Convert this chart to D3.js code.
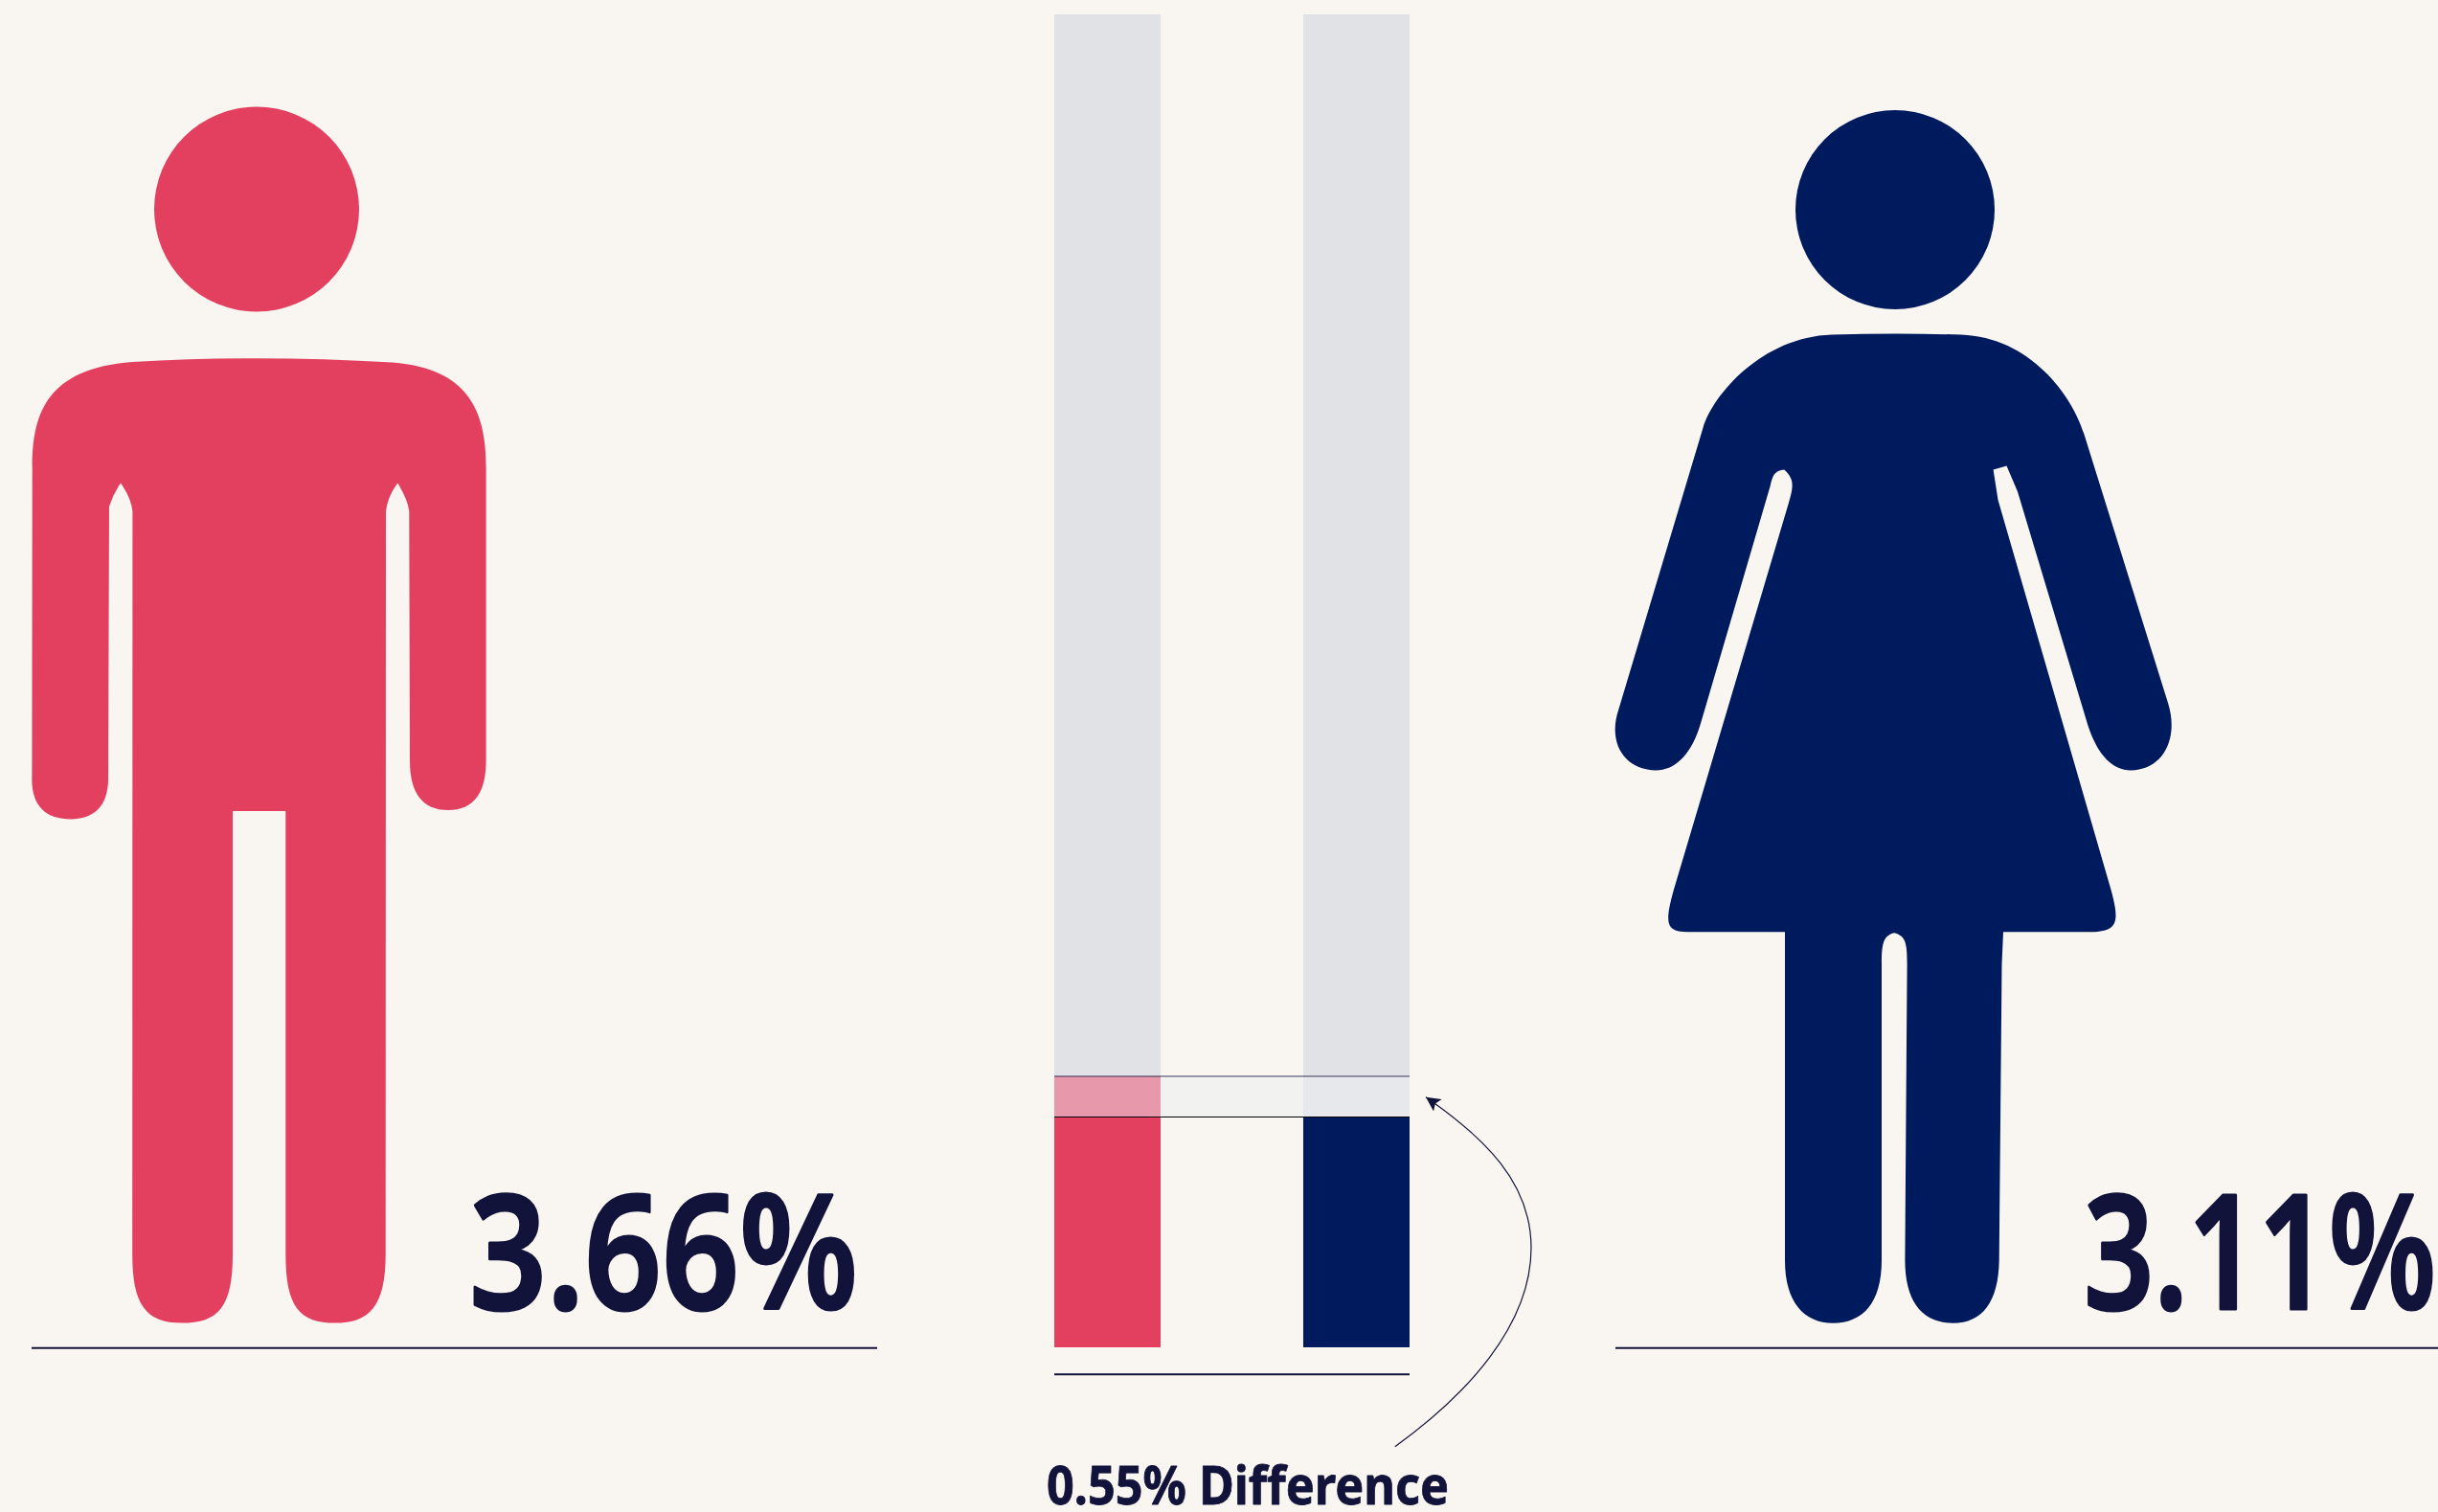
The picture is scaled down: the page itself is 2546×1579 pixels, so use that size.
<!DOCTYPE html>
<html>
<head>
<meta charset="utf-8">
<script src="https://cdn.jsdelivr.net/npm/d3@7/dist/d3.min.js"></script>
<style>
  html, body { margin: 0; padding: 0; background: #F9F6F1; overflow: hidden; }
  text { font-family: "Noto Sans", sans-serif; fill: #12133A; stroke: #12133A; stroke-linejoin: round; }
</style>
</head>
<body>
<script>
// Share of each group, in percent
const groups = ["Male", "Female"];
const shares = [3.66, 3.11];
const trackMax = 18;

const W = 2546, H = 1579;
const PAPER = "#F9F6F1", RED = "#E34060", NAVY = "#001A5E", INK = "#12133A", TRACK = "#E0E2E5";
const colours = d3.scaleOrdinal(groups, [RED, NAVY]);

// Pictogram outlines
const HEAD_MALE = { cx: 268, cy: 218.5, r: 107 };
const HEAD_FEMALE = { cx: 1979, cy: 219, r: 104 };
const BODY_MALE = "M33.7,488 C33.7,430 50,385 138,378 Q270,370.3 410,378.5 C490,385 507.6,430 507.6,488 L507.6,794 C507.6,828 495,846 468,846 C441,846 428,828 428,794 L427.3,534 Q426,522 415.3,504.5 Q405,518 403,534 L402.7,1310 C402.7,1365 385,1381.6 350,1381.6 C313,1381.6 298.3,1365 298.3,1310 L298.3,847 L243,847 L243,1310 C243,1365 228,1381.6 190,1381.6 C152,1381.6 138.2,1362 138.2,1310 L138.4,534 Q137,520 126,504.5 Q118,516 114,529 L113,810 C114,842 98,855.5 74,855.5 C48,855.5 32,842 33.4,810 Z";
const BODY_FEMALE = "M1778.4,447 C1789,412 1840,352 1913,349.5 Q1980,347.5 2047.8,349.5 C2120,352 2164,413 2176.3,453 L2264,734 C2276,772 2258,804.4 2225.3,804.4 C2205,804.4 2190,787 2180.4,757.4 L2107,513.4 L2095.5,486.4 L2081.6,490.4 L2086.5,522 L2203,924 C2215,965 2212,973.3 2179.8,973.3 L2092,973.3 L2090.5,1006.7 L2087.7,1316 C2087,1360 2070,1381.7 2039.7,1381.7 C2008,1381.7 1989.4,1360 1989.4,1316 L1991.6,1006 C1991.6,985 1990,977 1978,974.3 C1967,977 1965,985 1965,1006.7 L1965,1316 C1965,1360 1946,1381.7 1914.2,1381.7 C1884,1381.7 1864,1360 1864,1316 L1864,973.3 L1762,973.3 C1740,973.3 1738,965 1747.8,929.6 L1868,525 C1873,508 1874,500 1863.3,490.4 C1853,491 1851,497 1848.6,507.7 L1776.3,754.5 C1767,787 1750,804.4 1729.4,804.4 C1697,804.4 1678,776 1690.6,740 Z";

const svg = d3.select("body").append("svg")
  .attr("width", W).attr("height", H)
  .attr("viewBox", `0 0 ${W} ${H}`)
  .style("display", "block");

svg.append("rect").attr("width", W).attr("height", H).attr("fill", PAPER);

// Scales for the comparison column
const x = d3.scaleBand().domain(groups).range([1101, 1472]).paddingInner(0.573);
const y = d3.scaleLinear().domain([0, trackMax]).range([1407, 15]);
const value = d => shares[groups.indexOf(d)];

// Pictograms
svg.append("circle").attr("cx", HEAD_MALE.cx).attr("cy", HEAD_MALE.cy).attr("r", HEAD_MALE.r).attr("fill", RED);
svg.append("path").attr("d", BODY_MALE).attr("fill", RED);
svg.append("circle").attr("cx", HEAD_FEMALE.cx).attr("cy", HEAD_FEMALE.cy).attr("r", HEAD_FEMALE.r).attr("fill", NAVY);
svg.append("path").attr("d", BODY_FEMALE).attr("fill", NAVY);

// Background tracks
svg.selectAll(".track").data(groups).join("rect")
  .attr("class", "track")
  .attr("x", d => x(d)).attr("width", x.bandwidth())
  .attr("y", y(trackMax)).attr("height", y(0) - y(trackMax))
  .attr("fill", TRACK);

// Bars
svg.selectAll(".bar").data(groups).join("rect")
  .attr("class", "bar")
  .attr("x", d => x(d)).attr("width", x.bandwidth())
  .attr("y", d => y(value(d))).attr("height", d => y(0) - y(value(d)))
  .attr("fill", d => colours(d));

// Band marking the gap between the two shares
const [hi, lo] = [d3.max(shares), d3.min(shares)];
svg.append("rect")
  .attr("x", x.range()[0]).attr("width", x.range()[1] - x.range()[0])
  .attr("y", y(hi)).attr("height", y(lo) - y(hi))
  .attr("fill", "rgb(236,238,241)").attr("fill-opacity", 0.51);
svg.append("line")
  .attr("x1", x.range()[0]).attr("x2", x.range()[1])
  .attr("y1", y(hi)).attr("y2", y(hi))
  .attr("stroke", INK).attr("stroke-opacity", 0.55).attr("stroke-width", 1.5);
svg.append("line")
  .attr("x1", x.range()[0]).attr("x2", x.range()[1])
  .attr("y1", y(lo)).attr("y2", y(lo))
  .attr("stroke", "#000").attr("stroke-width", 1.2);

// Rules under each section
const rules = [[33, 916, 1407.7], [1101, 1472, 1435.3], [1687, 2546, 1407.7]];
svg.selectAll(".rule").data(rules).join("line")
  .attr("class", "rule")
  .attr("x1", d => d[0]).attr("x2", d => d[1])
  .attr("y1", d => d[2]).attr("y2", d => d[2])
  .attr("stroke", INK).attr("stroke-width", 2);

// Curved pointer from the caption to the band
const defs = svg.append("defs");
defs.append("marker").attr("id", "tip")
  .attr("viewBox", "0 0 10 10").attr("refX", 10).attr("refY", 5)
  .attr("markerUnits", "userSpaceOnUse")
  .attr("markerWidth", 20).attr("markerHeight", 15)
  .attr("orient", "auto")
  .append("path").attr("d", "M0,0 L10,5 L0,10 L2,5 Z").attr("fill", INK);

const arc = d3.path();
arc.moveTo(1456.8, 1510.7);
arc.bezierCurveTo(1530, 1458, 1599, 1385, 1599, 1303);
arc.bezierCurveTo(1599, 1235, 1550, 1188, 1489, 1145.7);
svg.append("path")
  .attr("d", arc.toString())
  .attr("fill", "none").attr("stroke", INK).attr("stroke-width", 1.2)
  .attr("marker-end", "url(#tip)");

// Value labels and caption
const fmt = d => d.toFixed(2) + "%";
const labelAt = { Male: [490, 1367, 406], Female: [2176, 1367, 368] };
svg.selectAll(".value").data(groups).join("text")
  .attr("class", "value")
  .attr("x", d => labelAt[d][0]).attr("y", d => labelAt[d][1])
  .attr("font-size", 166).attr("font-weight", 600)
  .attr("stroke-width", 3)
  .attr("textLength", d => labelAt[d][2])
  .attr("lengthAdjust", "spacingAndGlyphs")
  .text(d => fmt(value(d)));

svg.append("text")
  .attr("x", 1093).attr("y", 1571)
  .attr("font-size", 56).attr("font-weight", 700)
  .attr("stroke-width", 0.8)
  .attr("textLength", 420)
  .attr("lengthAdjust", "spacingAndGlyphs")
  .text(`${fmt(hi - lo)} Difference`);
</script>
</body>
</html>
